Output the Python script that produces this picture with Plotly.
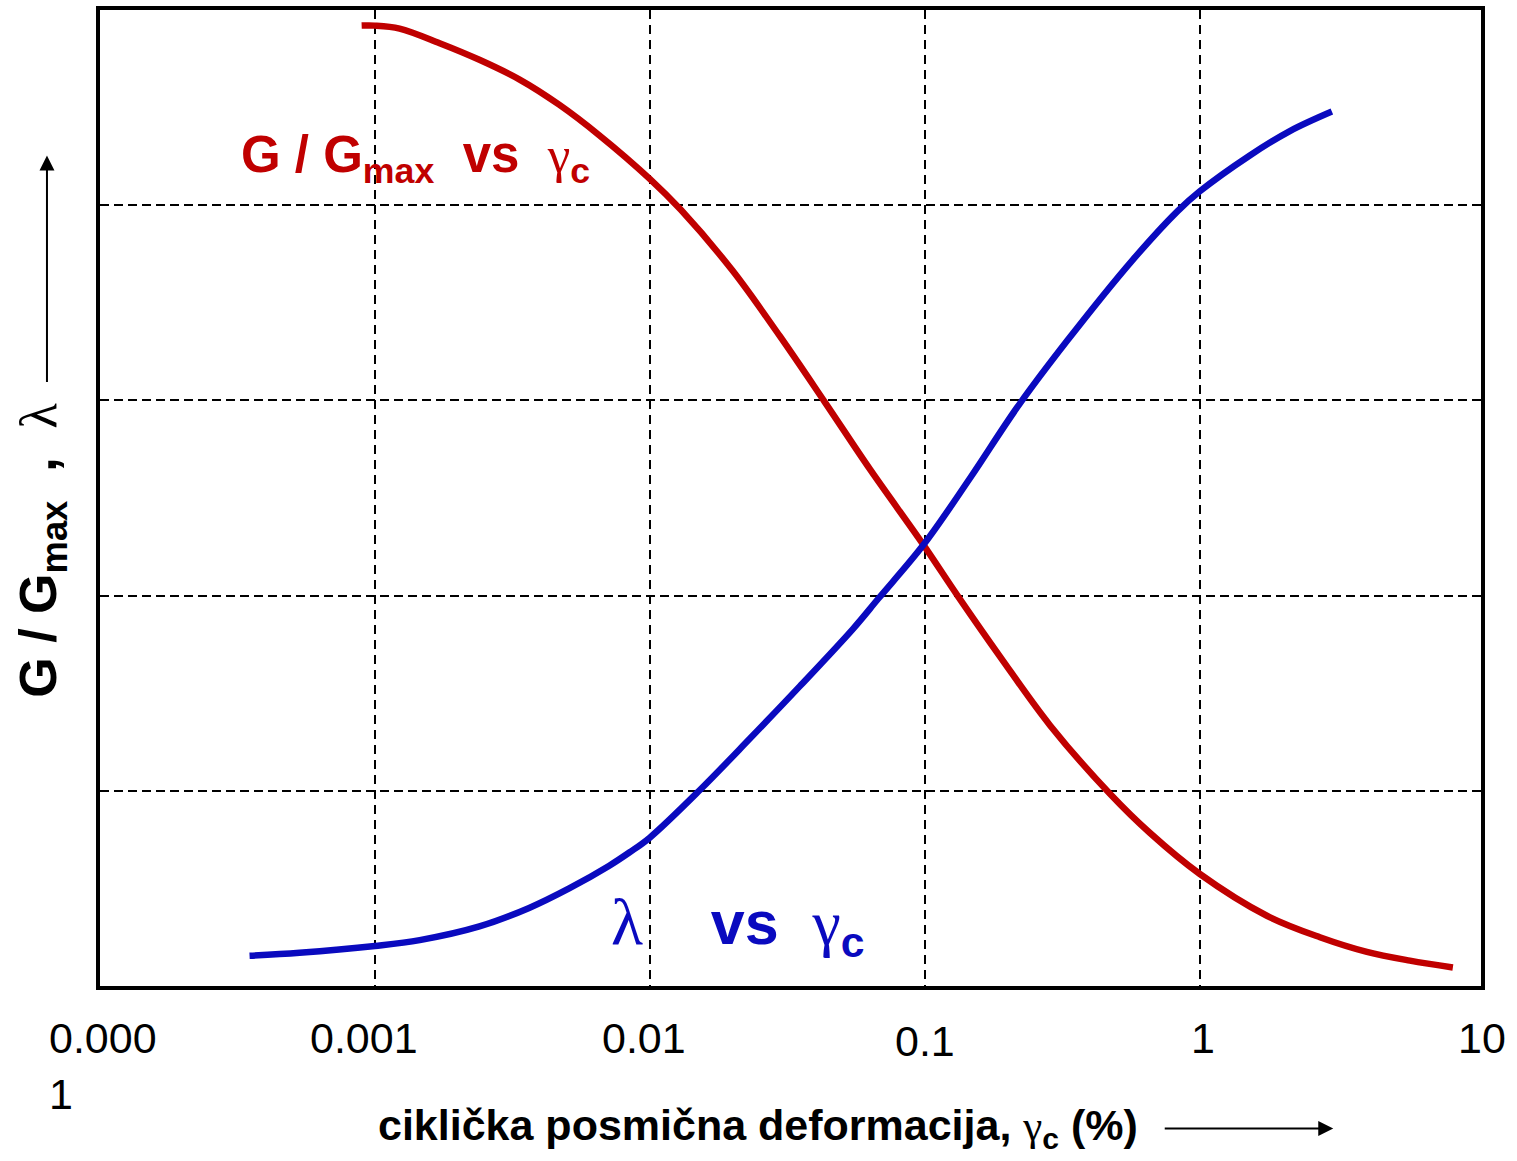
import math
import plotly.graph_objects as go

# G/Gmax vs cyclic shear strain (red)
g_x = [0.000895, 0.0010, 0.00123, 0.00172, 0.00240, 0.00335, 0.00468, 0.00653, 0.0100,
       0.0130, 0.0200, 0.0297, 0.0434, 0.0634, 0.099, 0.1317, 0.1886, 0.286, 0.472,
       0.659, 1.00, 1.758, 2.741, 4.063, 5.825, 8.35]
g_y = [0.984, 0.984, 0.981, 0.966, 0.949, 0.929, 0.903, 0.872, 0.827,
       0.795, 0.733, 0.666, 0.598, 0.529, 0.452, 0.400, 0.337, 0.267, 0.197,
       0.157, 0.115, 0.072, 0.050, 0.035, 0.026, 0.019]

# damping ratio lambda vs cyclic shear strain (blue)
l_x = [0.00035, 0.000532, 0.0010, 0.001456, 0.00240, 0.00364, 0.00509, 0.00710, 0.00845, 0.0100,
       0.01512, 0.02305, 0.0351, 0.0549, 0.0679, 0.099, 0.1468, 0.2173, 0.3298, 0.5717,
       0.8323, 1.00, 1.524, 2.131, 3.030]
l_y = [0.031, 0.034, 0.041, 0.047, 0.061, 0.080, 0.100, 0.123, 0.137, 0.152,
       0.200, 0.253, 0.307, 0.366, 0.397, 0.452, 0.521, 0.593, 0.661, 0.744,
       0.794, 0.814, 0.851, 0.876, 0.896]

tick_vals = [0.0001, 0.001, 0.01, 0.1, 1, 10]
tick_text = ["0.000<br>1", "0.001", "0.01", "0.1", "1", "10"]
tick_shift = [3, -11, -6, 0, 3, 8]
tick_dy = [0, 0, 0, -3, 0, 0]

RED = "#C00000"
BLUE = "#0A0ABF"
FONT = "Liberation Sans, Arial, sans-serif"
SERIF_SPAN = "<span style='font-family:Liberation Serif, DejaVu Serif, serif'>{}</span>"

fig = go.Figure()
fig.add_trace(go.Scatter(x=g_x, y=g_y, mode="lines",
                         line=dict(color=RED, width=6.5, shape="spline", smoothing=1.0),
                         showlegend=False, hoverinfo="skip"))
fig.add_trace(go.Scatter(x=l_x, y=l_y, mode="lines",
                         line=dict(color=BLUE, width=6.5, shape="spline", smoothing=1.0),
                         showlegend=False, hoverinfo="skip"))

annotations = []
for v, t, s, dy in zip(tick_vals, tick_text, tick_shift, tick_dy):
    annotations.append(dict(x=math.log10(v), y=-0.027, xref="x", yref="paper",
                            text=t, showarrow=False, xanchor="center", yanchor="top", align="left",
                            xshift=s, yshift=dy,
                            font=dict(family=FONT, size=43, color="black")))

gam = SERIF_SPAN.format("γ")
lam = SERIF_SPAN.format("λ")

# curve labels
annotations.append(dict(x=0.101, y=0.848, xref="paper", yref="paper", xanchor="left", yanchor="middle",
                        showarrow=False, align="left",
                        text="<b>G / G<sub>max</sub>\u00a0\u00a0vs</b>\u00a0\u00a0" + gam + "<sub><b>c</b></sub>",
                        font=dict(family=FONT, size=51, color=RED)))
annotations.append(dict(x=0.3685, y=0.062, xref="paper", yref="paper", xanchor="left", yanchor="middle",
                        showarrow=False, align="left",
                        text="<span style='font-size:66px'>" + lam + "</span>\u00a0\u00a0\u00a0\u00a0<b>vs</b>\u00a0\u00a0"
                             + "<span style='font-size:64px'>" + gam + "</span><sub><b>c</b></sub>",
                        font=dict(family=FONT, size=61, color=BLUE)))

# axis titles
annotations.append(dict(x=-0.042, y=0.447, xref="paper", yref="paper", xanchor="center", yanchor="middle",
                        showarrow=False, textangle=-90,
                        text="<b>G / G<sub>max</sub>\u00a0\u00a0,</b>\u00a0\u00a0" + lam,
                        font=dict(family=FONT, size=52, color="black")))
annotations.append(dict(x=0.4765, y=-0.145, xref="paper", yref="paper", xanchor="center", yanchor="middle",
                        showarrow=False,
                        text="<b>ciklička posmična deformacija, </b>" + gam + "<sub><b>c</b></sub><b> (%)</b>",
                        font=dict(family=FONT, size=43, color="black")))

# arrows
annotations.append(dict(x=-0.0384, y=0.851, xref="paper", yref="paper", text="", showarrow=True,
                        ax=0, ay=228, axref="pixel", ayref="pixel", arrowhead=2, arrowsize=1.5,
                        arrowwidth=2, arrowcolor="black"))
annotations.append(dict(x=0.893, y=-0.146, xref="paper", yref="paper", text="", showarrow=True,
                        ax=-170, ay=0, axref="pixel", ayref="pixel", arrowhead=2, arrowsize=1.5,
                        arrowwidth=2, arrowcolor="black"))

fig.update_layout(
    width=1517, height=1161,
    margin=dict(l=100, r=36, t=6, b=175),
    paper_bgcolor="white", plot_bgcolor="white",
    annotations=annotations,
    showlegend=False,
)
fig.update_xaxes(type="log", range=[-4, 1.024], showline=True, mirror=True, linewidth=4, linecolor="black",
                 showgrid=True, gridcolor="black", gridwidth=2, griddash="9px,6px",
                 tickvals=[0.001, 0.01, 0.1, 1], showticklabels=False, ticks="", zeroline=False)
fig.update_yaxes(range=[0, 1], showline=True, mirror=True, linewidth=4, linecolor="black",
                 showgrid=True, gridcolor="black", gridwidth=2, griddash="9px,5px",
                 tickvals=[0.2, 0.4, 0.6, 0.8], showticklabels=False, ticks="", zeroline=False)

fig.write_html("out.html")
